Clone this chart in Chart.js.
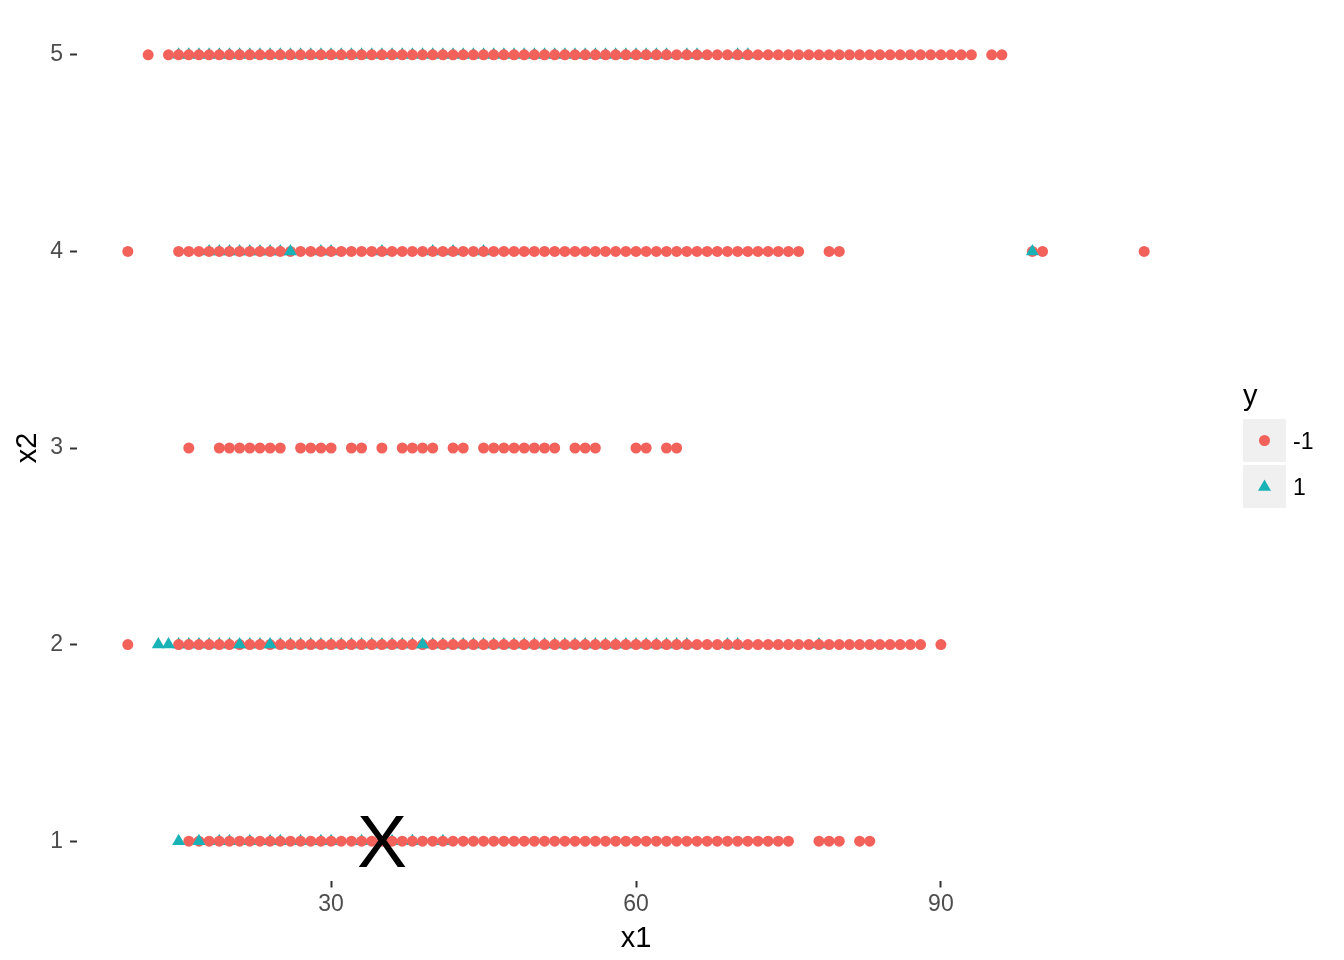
<!DOCTYPE html>
<html><head><meta charset="utf-8">
<script src="https://cdn.jsdelivr.net/npm/chart.js@4.4.1/dist/chart.umd.min.js"></script>
<style>html,body{margin:0;padding:0;background:#fff;}#wrap{width:1344px;height:960px;position:relative;}</style>
</head><body><div id="wrap"><canvas id="c" width="1344" height="960"></canvas></div>
<script>
// ---- data (x1 values per x2 row) ----
const xTicks = [30, 60, 90];
const yTicks = [1, 2, 3, 4, 5];
const legendTitle = 'y';
const legendLabels = ['-1', '1'];
const xTitle = 'x1';
const yTitle = 'x2';
const markText = 'X';
const markX = 35;
const markY = 1;

const redX5 = [12,14,15,16,17,18,19,20,21,22,23,24,25,26,27,28,29,30,31,32,33,34,35,36,37,38,39,40,41,42,43,44,45,46,47,48,49,50,51,52,53,54,55,56,57,58,59,60,61,62,63,64,65,66,67,68,69,70,71,72,73,74,75,76,77,78,79,80,81,82,83,84,85,86,87,88,89,90,91,92,93,95,96];
const blueX5 = [15,16,17,18,19,20,21,22,23,24,25,26,27,28,29,30,31,32,33,34,35,36,37,38,39,40,41,42,43,44,45,46,47,48,49,50,51,52,53,54,55,56,57,58,59,60,61,62,63,65,66,70,71];
const blueTopX5 = [];

const redX4 = [10,15,16,17,18,19,20,21,22,23,24,25,26,27,28,29,30,31,32,33,34,35,36,37,38,39,40,41,42,43,44,45,46,47,48,49,50,51,52,53,54,55,56,57,58,59,60,61,62,63,64,65,66,67,68,69,70,71,72,73,74,75,76,79,80,99,100,110];
const blueX4 = [18,19,20,21,22,23,24,25,29,30,35,40,42,45];
const blueTopX4 = [26,99];

const redX3 = [16,19,20,21,22,23,24,25,27,28,29,30,32,33,35,37,38,39,40,42,43,45,46,47,48,49,50,51,52,54,55,56,60,61,63,64];

const redX2 = [10,15,16,17,18,19,20,21,22,23,24,25,26,27,28,29,30,31,32,33,34,35,36,37,38,39,40,41,42,43,44,45,46,47,48,49,50,51,52,53,54,55,56,57,58,59,60,61,62,63,64,65,66,67,68,69,70,71,72,73,74,75,76,77,78,79,80,81,82,83,84,85,86,87,88,90];
const blueX2 = [15,16,17,18,19,20,22,23,25,26,27,28,29,30,31,32,33,34,35,36,37,38,40,41,42,43,44,45,46,47,48,49,50,51,52,53,54,55,56,57,58,59,60,61,62,63,64,65,69,70,78];
const blueTopX2 = [13,14,21,24,39];

const redX1 = [16,17,18,19,20,21,22,23,24,25,26,27,28,29,30,31,32,33,34,35,36,37,38,39,40,41,42,43,44,45,46,47,48,49,50,51,52,53,54,55,56,57,58,59,60,61,62,63,64,65,66,67,68,69,70,71,72,73,74,75,78,79,80,82,83];
const blueX1 = [19,20,22,24,25,27,29,30,33,36,38,41];
const blueTopX1 = [15,17];

// ---- styles ----
const RED = '#F3615B';
const TEAL = '#19B2B6';
const FONT = '"Liberation Sans", Arial, Helvetica, sans-serif';

function pts(xs, y) { return xs.map(x => ({x: x, y: y})); }
const redData = [].concat(pts(redX1,1), pts(redX2,2), pts(redX3,3), pts(redX4,4), pts(redX5,5));
const blueData = [].concat(pts(blueX1,1), pts(blueX2,2), pts(blueX4,4), pts(blueX5,5));
const blueTopData = [].concat(pts(blueTopX1,1), pts(blueTopX2,2), pts(blueTopX4,4), pts(blueTopX5,5));

const extras = {
  id: 'extras',
  afterDatasetsDraw(chart) {
    const ctx = chart.ctx;
    const xs = chart.scales.x, ys = chart.scales.y;
    ctx.save();
    ctx.fillStyle = '#000';
    ctx.font = '75px ' + FONT;
    ctx.textAlign = 'center';
    ctx.textBaseline = 'alphabetic';
    ctx.fillText(markText, xs.getPixelForValue(markX), ys.getPixelForValue(markY) + 26);
    ctx.textAlign = 'left';
    ctx.fillStyle = '#000';
    ctx.font = '29px ' + FONT;
    ctx.fillText(legendTitle, 1243, 405);
    ctx.fillStyle = '#F0F0F0';
    ctx.fillRect(1243, 419, 43, 43);
    ctx.fillRect(1243, 465, 43, 43);
    ctx.fillStyle = RED;
    ctx.beginPath(); ctx.arc(1264.5, 440.5, 5.5, 0, Math.PI*2); ctx.fill();
    ctx.fillStyle = TEAL;
    const r = 7.5, cx = 1264.5, cy = 487;
    ctx.beginPath();
    ctx.moveTo(cx, cy - r);
    ctx.lineTo(cx + r*Math.sin(2*Math.PI/3), cy - r*Math.cos(2*Math.PI/3));
    ctx.lineTo(cx + r*Math.sin(4*Math.PI/3), cy - r*Math.cos(4*Math.PI/3));
    ctx.closePath(); ctx.fill();
    ctx.fillStyle = '#000';
    ctx.font = '23px ' + FONT;
    ctx.fillText(legendLabels[0], 1293, 449);
    ctx.fillText(legendLabels[1], 1293, 495);
    ctx.restore();
  }
};

new Chart(document.getElementById('c'), {
  type: 'scatter',
  data: {
    datasets: [
      {label: '1top', data: blueTopData, backgroundColor: TEAL, pointStyle: 'triangle', pointRadius: 7.5, borderWidth: 0, order: 0},
      {label: '-1', data: redData, backgroundColor: RED, pointStyle: 'circle', pointRadius: 5.5, borderWidth: 0, order: 1},
      {label: '1', data: blueData, backgroundColor: TEAL, pointStyle: 'triangle', pointRadius: 7.5, borderWidth: 0, order: 2}
    ]
  },
  options: {
    responsive: false,
    animation: false,
    devicePixelRatio: 1,
    layout: {padding: {left: 0, right: 149, top: 15.5, bottom: 0}},
    plugins: {legend: {display: false}, tooltip: {enabled: false}},
    scales: {
      x: {
        type: 'linear', min: 5, max: 115,
        afterBuildTicks: s => { s.ticks = xTicks.map(v => ({value: v})); },
        afterFit: s => { s.height = 79.5; s.paddingLeft = 0; s.paddingRight = 0; },
        ticks: {font: {family: FONT, size: 23}, color: '#4D4D4D', padding: 3, maxRotation: 0},
        grid: {display: true, drawOnChartArea: false, drawTicks: true, tickLength: 7, tickColor: '#333333', tickWidth: 2},
        border: {display: false},
        title: {display: true, text: xTitle, font: {family: FONT, size: 29}, color: '#000', padding: {top: 0, bottom: 4}}
      },
      y: {
        type: 'linear', min: 0.8, max: 5.2,
        afterBuildTicks: s => { s.ticks = yTicks.map(v => ({value: v})); },
        afterFit: s => { s.width = 77; s.paddingTop = 0; s.paddingBottom = 0; },
        ticks: {font: {family: FONT, size: 23}, color: '#4D4D4D', padding: 7},
        grid: {display: true, drawOnChartArea: false, drawTicks: true, tickLength: 7, tickColor: '#333333', tickWidth: 2},
        border: {display: false},
        title: {display: true, text: yTitle, font: {family: FONT, size: 29}, color: '#000', padding: {top: 11, bottom: 0}}
      }
    }
  },
  plugins: [extras]
});
</script></body></html>
